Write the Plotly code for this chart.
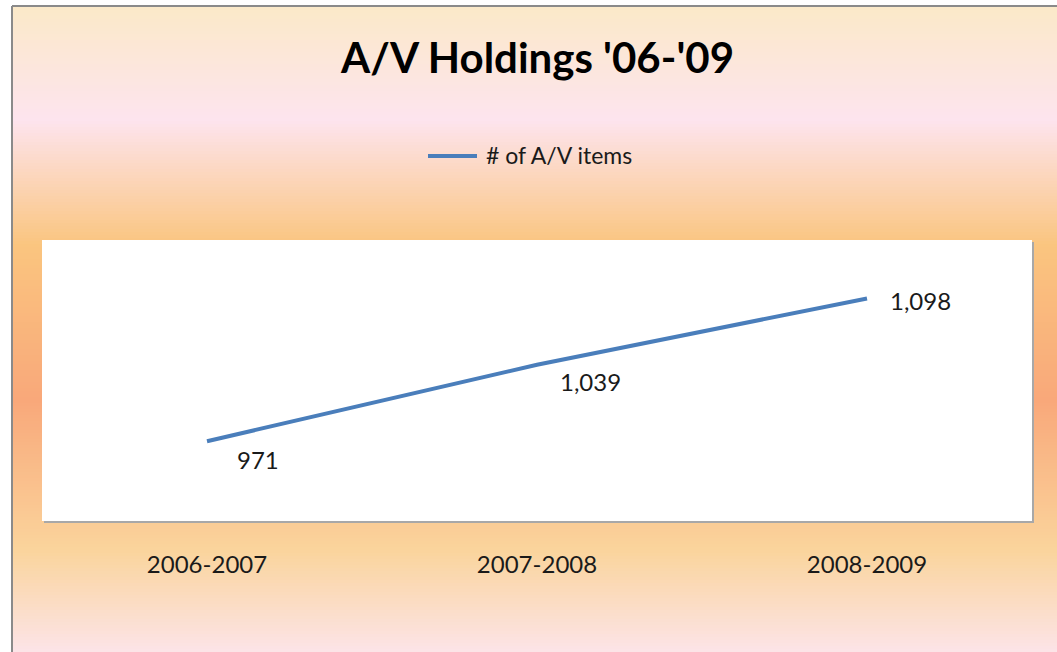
import plotly.graph_objects as go

# ---- data ----
categories = ["2006-2007", "2007-2008", "2008-2009"]
av_items = [971, 1039, 1098]
value_labels = ["971", "1,039", "1,098"]
series_name = "# of A/V items"
title_text = "A/V Holdings '06-'09"

# ---- layout geometry (pixels) ----
W, H = 1057, 652
PL, PR, PT, PB = 42, 1032, 240, 521   # plot area
LINE_COLOR = "#4A7EBB"
FONT = "Lato"

def px_x(px):
    return (px - PL) / (PR - PL)

def px_y(py):
    return (PB - py) / (PB - PT)

def hex2rgb(h):
    h = h.lstrip("#")
    return tuple(int(h[i:i + 2], 16) for i in (0, 2, 4))

stops = [(7, "#FBE9C9"), (120, "#FDE4EE"), (245, "#FAC57F"),
         (400, "#F9A87A"), (550, "#FAD49C"), (652, "#FCE4E8")]

def grad_color(py):
    for (y0, c0), (y1, c1) in zip(stops[:-1], stops[1:]):
        if y0 <= py <= y1:
            t = (py - y0) / (y1 - y0)
            a, b = hex2rgb(c0), hex2rgb(c1)
            return "rgb(%d,%d,%d)" % tuple(round(a[i] + (b[i] - a[i]) * t) for i in range(3))
    return stops[-1][1]

shapes = []
band = 3
y = 7
while y < H:
    shapes.append(dict(type="rect", xref="paper", yref="paper", layer="below",
                       x0=px_x(13), x1=px_x(W + 5), y0=px_y(y), y1=px_y(min(y + band + 0.5, H + 2)),
                       fillcolor=grad_color(y + band / 2), line=dict(width=0)))
    y += band

# chart border (left and top)
shapes.append(dict(type="line", xref="paper", yref="paper", layer="below",
                   x0=px_x(12), x1=px_x(12), y0=px_y(6), y1=px_y(H + 5),
                   line=dict(color="#8A8A8A", width=2)))
shapes.append(dict(type="line", xref="paper", yref="paper", layer="below",
                   x0=px_x(12), x1=px_x(W + 5), y0=px_y(6), y1=px_y(6),
                   line=dict(color="#8A8A8A", width=2)))
# plot area shadow + white face
shapes.append(dict(type="rect", xref="paper", yref="paper", layer="below",
                   x0=px_x(PL + 2), x1=px_x(PR + 2), y0=px_y(PT + 2), y1=px_y(PB + 2),
                   fillcolor="#A8A8A8", line=dict(width=0)))
shapes.append(dict(type="rect", xref="paper", yref="paper", layer="below",
                   x0=0, x1=1, y0=0, y1=1, fillcolor="white", line=dict(width=0)))
# legend line sample
shapes.append(dict(type="line", xref="paper", yref="paper",
                   x0=px_x(428), x1=px_x(477), y0=px_y(156), y1=px_y(156),
                   line=dict(color=LINE_COLOR, width=4)))

fig = go.Figure()
fig.add_trace(go.Scatter(x=categories, y=av_items, mode="lines", name=series_name,
                         line=dict(color=LINE_COLOR, width=4), showlegend=False,
                         hoverinfo="x+y"))

# data label offsets (pixels) relative to points
label_shift = [(51, -18), (53, -17), (53, -2)]
annotations = []
for cat, val, lab, (dx, dy) in zip(categories, av_items, value_labels, label_shift):
    annotations.append(dict(x=cat, y=val, xref="x", yref="y", text=lab, showarrow=False,
                            xshift=dx, yshift=dy, font=dict(family=FONT, size=24, color="#1a1a1a")))

annotations.append(dict(x=px_x(537), y=px_y(57), xref="paper", yref="paper", text="<b>%s</b>" % title_text,
                        showarrow=False, xanchor="center", yanchor="middle",
                        font=dict(family=FONT, size=42, color="black")))
annotations.append(dict(x=px_x(484), y=px_y(155), xref="paper", yref="paper", text=series_name,
                        showarrow=False, xanchor="left", yanchor="middle",
                        font=dict(family=FONT, size=23, color="#1a1a1a")))

fig.update_layout(
    width=W, height=H,
    margin=dict(l=PL, r=W - PR, t=PT, b=H - PB, pad=0),
    paper_bgcolor="white", plot_bgcolor="rgba(0,0,0,0)",
    shapes=shapes, annotations=annotations,
    showlegend=False,
    xaxis=dict(type="category", range=[-0.5, 2.5], showgrid=False, zeroline=False,
               showline=False, ticks="", ticklabelstandoff=27,
               tickfont=dict(family=FONT, size=24, color="#1a1a1a"), fixedrange=True),
    yaxis=dict(range=[900, 1150], showgrid=False, zeroline=False, showline=False,
               showticklabels=False, ticks="", fixedrange=True),
)

fig.write_html("out.html", config={"displayModeBar": False},
               post_script="document.body.style.margin='0';")
